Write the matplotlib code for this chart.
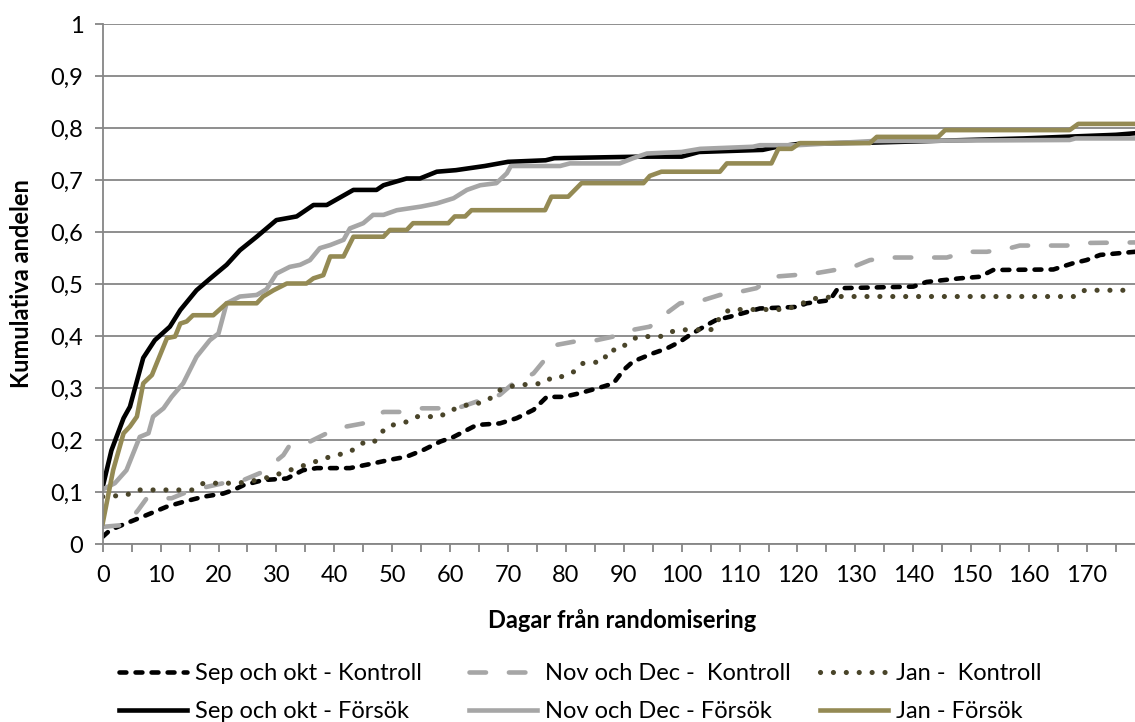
import matplotlib
matplotlib.use('Agg')
import matplotlib.pyplot as plt
import numpy as np

plt.rcParams['font.family'] = ['Lato', 'DejaVu Sans']

# %% Data (day, cumulative share)
sep_k_days = [0, 1.3, 4.1, 7, 11.1, 13.9, 17.4, 20.8, 22.6, 24.3, 27.7, 31.8, 34.6, 37,
              42.7, 46.7, 49.6, 52.5, 55.4, 58.3, 60.6, 64.6, 68.6, 71.5, 74.4, 76.7,
              79.6, 82.4, 86.5, 88.2, 90, 91.6, 95.1, 97.4, 99.7, 101.4, 104.3, 106,
              108.3, 110.6, 113.5, 119.9, 121.6, 125.6, 127, 140, 142.3, 148.1, 151.5,
              153.8, 164.2, 167.6, 169.9, 172.3, 178.3]
sep_k_vals = [0.014, 0.027, 0.04, 0.053, 0.072, 0.081, 0.091, 0.097, 0.104, 0.113, 0.123,
              0.126, 0.142, 0.146, 0.146, 0.155, 0.162, 0.168, 0.181, 0.197, 0.206, 0.229,
              0.232, 0.242, 0.258, 0.283, 0.283, 0.29, 0.303, 0.309, 0.335, 0.351, 0.367,
              0.376, 0.389, 0.402, 0.421, 0.431, 0.437, 0.444, 0.453, 0.456, 0.463, 0.469,
              0.492, 0.495, 0.504, 0.511, 0.514, 0.527, 0.528, 0.54, 0.546, 0.556, 0.562]

nov_k_days = [0, 4, 6.1, 7.6, 11.9, 14.5, 18, 20.8, 24.3, 27.7, 31.2, 32.3, 35.8, 38.7,
              42.1, 45, 48.5, 51.4, 55.1, 58.3, 62, 64.6, 68.6, 70.9, 74.4, 76.1, 78.4,
              81.3, 85.3, 88.2, 91.6, 94.5, 97.4, 99.7, 103.7, 106.6, 110, 112.9, 115.8,
              119.3, 123.3, 129.6, 132.5, 135.9, 145.8, 149.2, 152.7, 156.7, 158.4, 166.5,
              169.9, 178.3]
nov_k_vals = [0.033, 0.037, 0.065, 0.088, 0.088, 0.1, 0.11, 0.117, 0.123, 0.139, 0.171,
              0.19, 0.197, 0.213, 0.226, 0.232, 0.254, 0.254, 0.261, 0.261, 0.264, 0.274,
              0.287, 0.309, 0.328, 0.351, 0.383, 0.389, 0.392, 0.399, 0.412, 0.418, 0.444,
              0.463, 0.469, 0.479, 0.485, 0.492, 0.514, 0.517, 0.521, 0.533, 0.546, 0.551,
              0.551, 0.562, 0.562, 0.569, 0.574, 0.574, 0.579, 0.58]

jan_k_days = [0, 4.1, 5.9, 15.6, 17.4, 23.1, 25.4, 28.9, 32.3, 35.8, 39.3, 42.7, 44.7,
              46.7, 47.9, 49, 52.5, 54.2, 58.3, 60, 61.7, 63.5, 65.5, 66.9, 68.6, 70.3,
              72.1, 76.1, 77.8, 79.6, 81.3, 82.7, 86.5, 87.3, 89.3, 90.8, 92.5, 96.3, 98,
              100.3, 105, 105.8, 106.6, 108.3, 118.1, 120.1, 123.3, 127.3, 168.2, 169.6,
              178.3]
jan_k_vals = [0.091, 0.094, 0.104, 0.104, 0.117, 0.117, 0.12, 0.129, 0.142, 0.155, 0.168,
              0.177, 0.194, 0.194, 0.21, 0.226, 0.235, 0.245, 0.245, 0.258, 0.261, 0.271,
              0.271, 0.28, 0.296, 0.303, 0.306, 0.309, 0.322, 0.322, 0.331, 0.347, 0.351,
              0.373, 0.373, 0.389, 0.399, 0.399, 0.408, 0.412, 0.412, 0.418, 0.437, 0.451,
              0.451, 0.46, 0.473, 0.476, 0.476, 0.488, 0.488]

sep_f_days = [0, 1.5, 3.6, 4.7, 7, 9, 11.6, 13.4, 16.2, 18.5, 21.4, 23.7, 26.6, 30, 33.5,
              36.4, 38.7, 43.3, 47.3, 48.5, 52.5, 54.8, 57.7, 61, 66, 70, 76.5, 78, 93,
              100, 103, 114, 116.5, 120.5, 133, 159, 175, 178.3]
sep_f_vals = [0.11, 0.18, 0.242, 0.264, 0.358, 0.392, 0.418, 0.45, 0.488, 0.51, 0.537,
              0.565, 0.591, 0.623, 0.63, 0.652, 0.652, 0.681, 0.681, 0.69, 0.703, 0.703,
              0.716, 0.719, 0.727, 0.735, 0.738, 0.742, 0.745, 0.745, 0.754, 0.758, 0.764,
              0.77, 0.772, 0.78, 0.787, 0.79]

nov_f_days = [0, 2.1, 4.1, 6.4, 7.9, 8.7, 10.5, 11.9, 13.9, 16.2, 18.5, 20, 21.4, 23.7,
              26.6, 28.3, 30, 32.3, 34.1, 35.8, 37.5, 39.3, 41.6, 42.7, 45, 46.7, 48.5,
              50.8, 55, 57.7, 60.6, 62.9, 65.2, 68, 69.8, 70.5, 79, 80.7, 89.3, 91.6, 94,
              100, 103.2, 112.3, 113.5, 120, 133, 167, 168, 178.3]
nov_f_vals = [0.105, 0.117, 0.142, 0.206, 0.213, 0.245, 0.261, 0.283, 0.309, 0.36, 0.392,
              0.405, 0.463, 0.476, 0.479, 0.49, 0.52, 0.533, 0.537, 0.546, 0.569, 0.575,
              0.585, 0.607, 0.617, 0.633, 0.633, 0.642, 0.649, 0.655, 0.665, 0.681, 0.69,
              0.694, 0.713, 0.727, 0.727, 0.732, 0.732, 0.742, 0.751, 0.754, 0.76, 0.764,
              0.767, 0.767, 0.775, 0.777, 0.78, 0.78]

jan_f_days = [0, 1.8, 3.6, 4.7, 5.9, 7, 8.5, 9.3, 11.1, 12.5, 13.4, 14.5, 15.6, 19.1,
              21.4, 26.6, 27.7, 29.5, 31.8, 35.2, 36.4, 38.1, 39.3, 41.6, 43.3, 48.5, 49.6,
              52.5, 53.6, 59.7, 60.8, 62.6, 63.7, 76.4, 77.5, 80.4, 82.7, 93.4, 94.5, 96.5,
              106.6, 107.8, 115.5, 116.7, 119, 120.4, 132.5, 133.7, 144.3, 145.5, 167,
              168.5, 178.3]
jan_f_vals = [0.04, 0.142, 0.213, 0.226, 0.245, 0.309, 0.325, 0.347, 0.396, 0.399, 0.424,
              0.428, 0.44, 0.44, 0.463, 0.463, 0.476, 0.488, 0.501, 0.501, 0.511, 0.517,
              0.553, 0.553, 0.591, 0.591, 0.604, 0.604, 0.617, 0.617, 0.63, 0.63, 0.642,
              0.642, 0.668, 0.668, 0.694, 0.694, 0.708, 0.716, 0.716, 0.732, 0.732, 0.76,
              0.76, 0.771, 0.771, 0.783, 0.783, 0.796, 0.796, 0.808, 0.808]

y_ticks = [0, 0.1, 0.2, 0.3, 0.4, 0.5, 0.6, 0.7, 0.8, 0.9, 1.0]
y_labels = ['0', '0,1', '0,2', '0,3', '0,4', '0,5', '0,6', '0,7', '0,8', '0,9', '1']
x_major = list(range(0, 171, 10))
x_minor = list(range(5, 176, 10))

# %% Figure
grey_axis = '#868686'
fig = plt.figure(figsize=(11.35, 7.22), dpi=100)
ax = fig.add_axes([0.0905, 0.2465, 0.9095, 0.7202])

lw = 3.3
l_sep_k, = ax.plot(sep_k_days, sep_k_vals, color='black', lw=lw, dashes=(1.5, 2.0),
                   dash_capstyle='round', label='Sep och okt - Kontroll')
l_nov_k, = ax.plot(nov_k_days, nov_k_vals, color='#A6A6A6', lw=lw, dashes=(3.6, 5.0),
                   dash_capstyle='round', label='Nov och Dec -  Kontroll')
l_jan_k, = ax.plot(jan_k_days, jan_k_vals, color='#4A452A', lw=3.7, dashes=(0.01, 2.5),
                   dash_capstyle='round', label='Jan -  Kontroll')
l_sep_f, = ax.plot(sep_f_days, sep_f_vals, color='black', lw=lw,
                   solid_joinstyle='round', label='Sep och okt - Försök')
l_nov_f, = ax.plot(nov_f_days, nov_f_vals, color='#A6A6A6', lw=lw,
                   solid_joinstyle='round', label='Nov och Dec - Försök')
l_jan_f, = ax.plot(jan_f_days, jan_f_vals, color='#948A54', lw=lw,
                   solid_joinstyle='round', label='Jan - Försök')

ax.set_xlim(0, 178.3)
ax.set_ylim(0, 1)
ax.set_yticks(y_ticks)
ax.set_yticklabels(y_labels)
ax.set_xticks(x_major)
ax.set_xticklabels([str(v) for v in x_major])
ax.set_xticks(x_minor, minor=True)

ax.yaxis.grid(True, color=grey_axis, lw=1.3)
ax.set_axisbelow(True)
for side in ['top', 'right']:
    ax.spines[side].set_visible(False)
for side in ['left', 'bottom']:
    ax.spines[side].set_color(grey_axis)
    ax.spines[side].set_linewidth(1.3)

ax.tick_params(axis='x', which='both', direction='out', length=6, width=1.3,
               color=grey_axis, labelsize=17, pad=9)
ax.tick_params(axis='y', direction='out', length=6, width=1.3, color=grey_axis,
               labelsize=17, pad=8)

fig.text(622 / 1135, 1 - 620 / 722, 'Dagar från randomisering', ha='center',
         va='center', fontsize=17, fontweight='bold')
fig.text(22 / 1135, 1 - 284 / 722, 'Kumulativa andelen', ha='center', va='center',
         rotation=90, fontsize=17, fontweight='bold')

# legend: three columns of two entries each
columns = [(119, [l_sep_k, l_sep_f]), (469, [l_nov_k, l_nov_f]), (820, [l_jan_k, l_jan_f])]
for x_px, handles in columns:
    fig.legend(handles=handles, loc='center left',
               bbox_to_anchor=(x_px / 1135, 1 - 693 / 722), frameon=False,
               fontsize=17, handlelength=2.9, handletextpad=0.3,
               labelspacing=0.72, borderpad=0, borderaxespad=0)

fig.savefig('out.png', dpi=100)
